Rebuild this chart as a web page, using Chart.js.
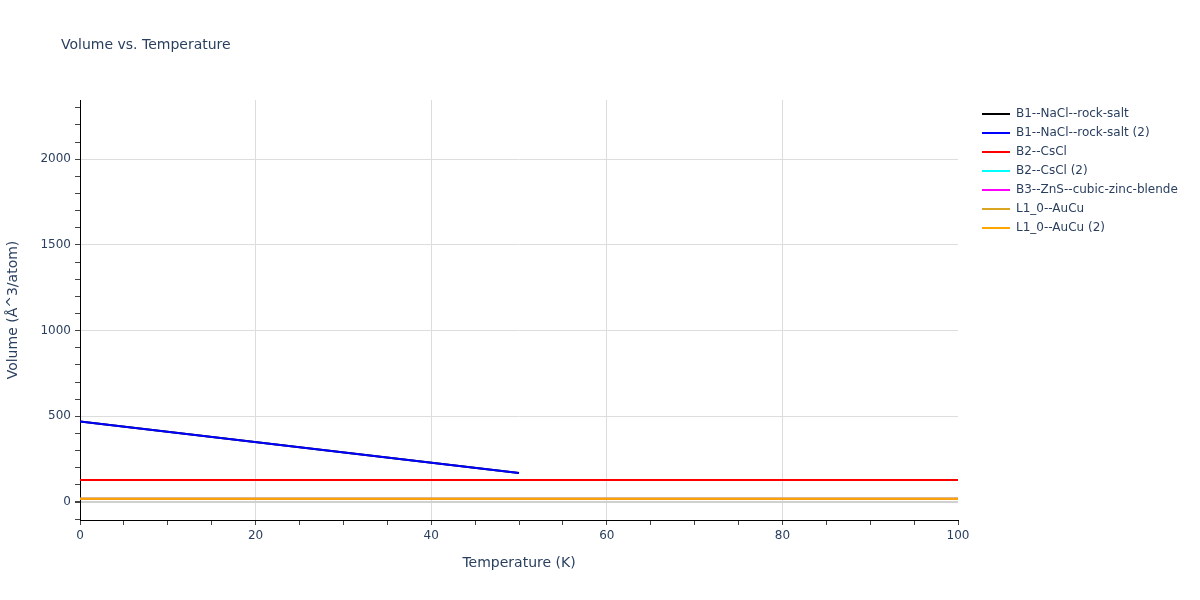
<!DOCTYPE html>
<html>
<head>
<meta charset="utf-8">
<title>Volume vs. Temperature</title>
<script src="https://cdn.jsdelivr.net/npm/chart.js@4/dist/chart.umd.min.js"></script>
<style>
  body { margin: 0; background: #fff; }
  #wrap { width: 1200px; height: 600px; }
</style>
</head>
<body>
<div id="wrap"><canvas id="chart" width="1200" height="600"></canvas></div>
<script>
// series names and colours, in legend order
const seriesNames = [
  "B1--NaCl--rock-salt",
  "B1--NaCl--rock-salt (2)",
  "B2--CsCl",
  "B2--CsCl (2)",
  "B3--ZnS--cubic-zinc-blende",
  "L1_0--AuCu",
  "L1_0--AuCu (2)",
];
const seriesColors = ["#000000", "#0000ff", "#ff0000", "#00ffff", "#ff00ff", "#daa520", "#ffa500"];

// temperatures (K)
const tempsShort = [0, 50];
const tempsFull = [0, 100];

// volumes (Å^3/atom)
const naclVol = [470, 169];
const csclVol = [128, 128];
const aucuVol = [19, 19];

const seriesT = [tempsShort, tempsShort, tempsFull, tempsFull, tempsFull, tempsFull, tempsFull];
const seriesV = [naclVol, naclVol, csclVol, aucuVol, aucuVol, aucuVol, aucuVol];

// axis ticks
const xTicks = [0, 5, 10, 15, 20, 25, 30, 35, 40, 45, 50, 55, 60, 65, 70, 75, 80, 85, 90, 95, 100];
const xLabeled = [0, 20, 40, 60, 80, 100];
const yTicks = [-100, 0, 100, 200, 300, 400, 500, 600, 700, 800, 900, 1000, 1100, 1200, 1300,
  1400, 1500, 1600, 1700, 1800, 1900, 2000, 2100, 2200, 2300];
const yLabeled = [0, 500, 1000, 1500, 2000];

const textColor = "#2a3f5f";
const font = "'DejaVu Sans', Verdana, sans-serif";

const datasets = seriesNames.map((name, i) => ({
  label: name,
  data: seriesT[i].map((t, j) => ({ x: t, y: seriesV[i][j] })),
  borderColor: seriesColors[i],
  backgroundColor: seriesColors[i],
  borderWidth: 2,
  pointRadius: 0,
  showLine: true,
  fill: false,
  order: seriesNames.length - i,
}));

// title + legend drawn by hand, plotly style
const decor = {
  id: "decor",
  afterDraw(chart) {
    const ctx = chart.ctx;
    ctx.save();
    ctx.fillStyle = textColor;
    ctx.font = "14px " + font;
    ctx.textBaseline = "middle";
    ctx.textAlign = "left";
    ctx.fillText("Volume vs. Temperature", 61, 45);

    ctx.font = "12px " + font;
    seriesNames.forEach((name, i) => {
      const y = 114 + i * 19;
      ctx.strokeStyle = seriesColors[i];
      ctx.lineWidth = 2;
      ctx.beginPath();
      ctx.moveTo(982, y);
      ctx.lineTo(1010, y);
      ctx.stroke();
      ctx.fillStyle = textColor;
      ctx.fillText(name, 1016, y);
    });
    ctx.restore();
  },
};

new Chart(document.getElementById("chart"), {
  type: "scatter",
  data: { datasets: datasets },
  options: {
    responsive: false,
    animation: false,
    layout: { padding: { top: 100, right: 242, bottom: 0, left: 0 } },
    plugins: {
      legend: { display: false },
      title: { display: false },
      tooltip: { enabled: false },
    },
    scales: {
      x: {
        type: "linear",
        min: 0,
        max: 100,
        afterBuildTicks: s => { s.ticks = xTicks.map(v => ({ value: v })); },
        afterFit: s => { s.height = 80; },
        border: { color: "#000", width: 1 },
        grid: {
          color: c => (xLabeled.includes(c.tick.value) && c.tick.value !== 0 && c.tick.value !== 100) ? "#dddddd" : "rgba(0,0,0,0)",
          tickColor: "#444",
          tickLength: 5,
          drawTicks: true,
        },
        ticks: {
          autoSkip: false,
          maxRotation: 0,
          padding: 4,
          color: textColor,
          font: { family: font, size: 12 },
          callback: v => xLabeled.includes(v) ? String(v) : "",
        },
        title: {
          display: true,
          text: "Temperature (K)",
          color: textColor,
          font: { family: font, size: 14 },
          padding: { top: 0, bottom: 28 },
        },
      },
      y: {
        type: "linear",
        min: -105,
        max: 2345,
        afterBuildTicks: s => { s.ticks = yTicks.map(v => ({ value: v })); },
        afterFit: s => { s.width = 80; },
        border: { color: "#000", width: 1 },
        grid: {
          color: c => c.tick.value === 0 ? "#d0d0d0" : (yLabeled.includes(c.tick.value) ? "#dddddd" : "rgba(0,0,0,0)"),
          lineWidth: c => c.tick.value === 0 ? 2 : 1,
          tickColor: "#444",
          tickLength: 5,
          drawTicks: true,
        },
        ticks: {
          autoSkip: false,
          padding: 4,
          color: textColor,
          font: { family: font, size: 12 },
          callback: v => yLabeled.includes(v) ? String(v) : "",
        },
        title: {
          display: true,
          text: "Volume (Å^3/atom)",
          color: textColor,
          font: { family: font, size: 14 },
          padding: { top: 5, bottom: 0 },
        },
      },
    },
  },
  plugins: [decor],
});
</script>
</body>
</html>
